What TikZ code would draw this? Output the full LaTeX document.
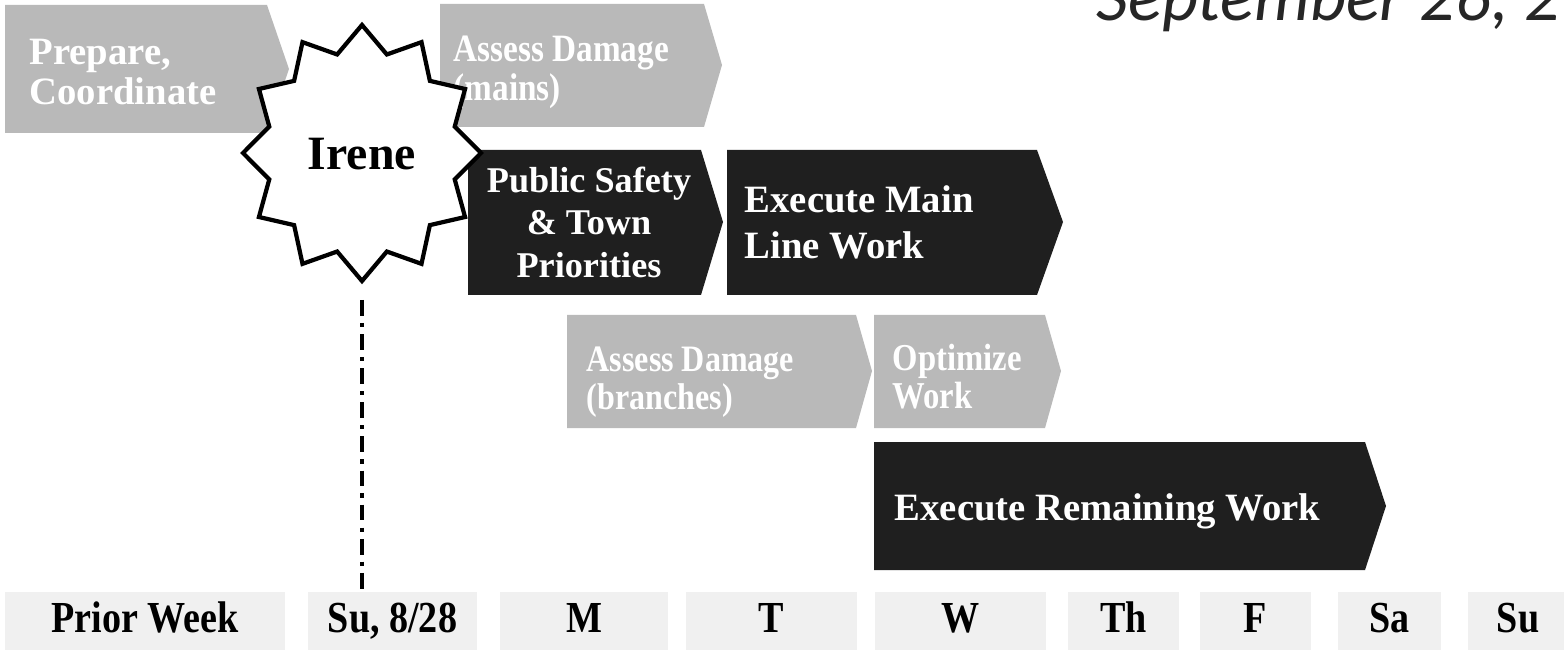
\documentclass[tikz,border=0pt]{standalone}
\usepackage{fontspec}
\setmainfont{Liberation Serif}
\newfontfamily\barfont{Liberation Serif}
\newfontfamily\narrowfont{Liberation Serif}[FakeStretch=0.86]
\newfontfamily\dayfont{Liberation Serif}[FakeStretch=0.86]
\newfontfamily\datefont{Carlito}
\usetikzlibrary{calc}

\begin{document}
\begin{tikzpicture}[x=0.01cm, y=-0.01cm,
    lightbar/.style={fill=gray!55},
    darkbar/.style={fill=black!88},
    bartext/.style={text=white, inner sep=0pt, align=left},
    daybox/.style={fill=gray!12, minimum height=0.58cm, inner sep=0pt,
        text height=6.3pt, text depth=0pt,
        font=\dayfont\bfseries\fontsize{12.6}{13}\selectfont},
    stormline/.style={line width=0.9pt, dash pattern=on 4.5pt off 2pt on 1.2pt off 2pt},
    stormstar/.style={fill=white, draw=black, line width=1.2pt, line join=miter}]
    \useasboundingbox (0,0) rectangle (1564,652);
    \clip (0,0) rectangle (1564,652);

    % Date in the corner
    \node[anchor=base west, inner sep=0pt, text=black!85,
        font=\datefont\itshape\fontsize{20}{20}\selectfont] (date) at (1096,21) {September 26, 2};

    % Grey bars
    \fill[lightbar] (5,5) -- (267,5) -- (289,69) -- (267,133) -- (5,133) -- cycle;
    \fill[lightbar] (440,4) -- (704,4) -- (722,65) -- (704,127) -- (440,127) -- cycle;
    \fill[lightbar] (567,315) -- (856,315) -- (872,371) -- (856,428) -- (567,428) -- cycle;
    \fill[lightbar] (874,315) -- (1045,315) -- (1061,371) -- (1045,428) -- (874,428) -- cycle;

    % Black bars
    \fill[darkbar] (468,150) -- (701,150) -- (723,222) -- (701,295) -- (468,295) -- cycle;
    \fill[darkbar] (727,150) -- (1037,150) -- (1063,222) -- (1037,295) -- (727,295) -- cycle;
    \fill[darkbar] (874,442) -- (1365,442) -- (1386,506) -- (1365,570) -- (874,570) -- cycle;

    % Bar labels
    \node[bartext, anchor=west, font=\barfont\bfseries\fontsize{11}{11.4}\selectfont] (prep) at (29,72) {Prepare,\\Coordinate};
    \node[bartext, anchor=west, font=\narrowfont\bfseries\fontsize{11}{9.6}\selectfont] (mains) at (453,72) {Assess Damage\\(mains)};
    \node[bartext, anchor=west, font=\narrowfont\bfseries\fontsize{10.6}{9.2}\selectfont] (branches) at (586,382) {Assess Damage\\(branches)};
    \node[bartext, anchor=west, font=\narrowfont\bfseries\fontsize{10.8}{9.2}\selectfont] (optimize) at (892,377) {Optimize\\Work};
    \node[bartext, align=center, font=\barfont\bfseries\fontsize{10.3}{12.1}\selectfont] (safety) at (589,222) {Public Safety\\\& Town\\Priorities};
    \node[bartext, anchor=west, font=\barfont\bfseries\fontsize{11}{13.1}\selectfont] (mainline) at (744,222) {Execute Main\\Line Work};
    \node[bartext, anchor=base west, font=\barfont\bfseries\fontsize{11}{12}\selectfont] (remaining) at (894,520) {Execute Remaining Work};

    % The storm
    \draw[stormstar] (362,25) \foreach \a in {90,120,...,420} {
        -- ({362+96*cos(\a+15)},{153-102*sin(\a+15)})
        -- ({362+119*cos(\a+30)},{153-128*sin(\a+30)})} -- cycle;
    \node[anchor=base, inner sep=0pt, font=\bfseries\fontsize{13.6}{14}\selectfont] (irene) at (362,170) {Irene};

    % Days along the bottom
    \node[daybox, minimum width=2.8cm] (dprior) at (145,621) {Prior Week};
    \node[daybox, minimum width=1.69cm] (dsun) at (392.5,621) {Su, 8/28};
    \node[daybox, minimum width=1.68cm] (dmon) at (584,621) {M};
    \node[daybox, minimum width=1.71cm] (dtue) at (771.5,621) {T};
    \node[daybox, minimum width=1.71cm] (dwed) at (960.5,621) {W};
    \node[daybox, minimum width=1.11cm] (dthu) at (1123.5,621) {Th};
    \node[daybox, minimum width=1.11cm] (dfri) at (1255.5,621) {F};
    \node[daybox, minimum width=1.03cm] (dsat) at (1389.5,621) {Sa};
    \node[daybox, minimum width=1.0cm] (dsun2) at (1518,621) {Su};

    % Landfall marker
    \coordinate (landfall) at (362,300);
    \draw[stormline] (landfall) -- (landfall |- dsun.north);
\end{tikzpicture}
\end{document}
